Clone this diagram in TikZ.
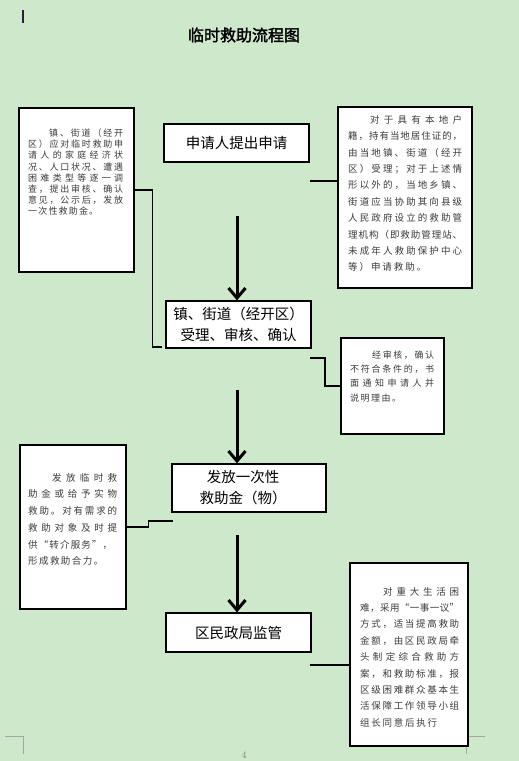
\documentclass[tikz,border=0pt]{standalone}
\usepackage{fontspec}
\newfontfamily\cjk{Noto Sans CJK SC}
\newfontfamily\cjkb{Noto Sans CJK SC}[FakeBold=2]
\usetikzlibrary{arrows.meta}
\definecolor{bggreen}{RGB}{206,232,204}
\definecolor{markgray}{RGB}{160,168,160}
\definecolor{pagenum}{RGB}{120,125,120}
\definecolor{cursorc}{RGB}{45,30,60}
\definecolor{sidetext}{RGB}{60,60,60}
% spread characters of a line evenly
\def\jl#1{\jlA#1\relax}
\def\jlA#1{#1\futurelet\jlnext\jlB}
\def\jlB{\ifx\jlnext\relax\expandafter\jlEnd\else\hfil\expandafter\jlA\fi}
\def\jlEnd\relax{}
\newcommand\JL[2]{\hbox to #1{\jl{#2}}}
\newcommand\JI[3]{\hbox to #1{\kern#2\jl{#3}}}
\tikzset{
  mainbox/.style={draw, fill=white, line width=1.3pt, inner sep=0pt, align=center,
    font=\cjk\fontsize{14.5}{21}\selectfont},
  sidebox/.style={draw, fill=white, line width=1.3pt, inner sep=0pt},
  sidetxt/.style={anchor=north west, inner sep=0pt, align=left, text=sidetext},
  conn/.style={line width=1.2pt},
  bigarrow/.style={line width=3pt, -{Straight Barb[length=10pt,width=17pt]}},
  pagemark/.style={markgray, line width=1pt}
}
\begin{document}
\begin{tikzpicture}[x=1pt,y=-1pt]
\fill[bggreen] (0,0) rectangle (519,761);
\useasboundingbox (0,0) rectangle (519,761);
% cursor bar
\draw[cursorc, line width=2pt] (23,10) -- (23,23);
% page corner marks
\draw[pagemark] (5,736) -- (23,736) -- (23,754);
\draw[pagemark] (485,736) -- (466,736) -- (466,754);
\node[text=pagenum, font=\fontsize{10}{10}\selectfont, inner sep=0pt] (pg) at (244,755.5) {4};
% title
\node[font=\cjkb\fontsize{16}{16}\selectfont, inner sep=0pt] (title) at (244,35) {临时救助流程图};
% main boxes
\node[mainbox, minimum width=145pt, minimum height=38pt] (m1) at (236.5,143) {申请人提出申请};
\node[mainbox, minimum width=145pt, minimum height=47pt] (m2) at (238.5,324.5) {镇、街道（经开区）\\受理、审核、确认};
\node[mainbox, minimum width=154pt, minimum height=48pt] (m3) at (249,488) {};
\node[font=\cjk\fontsize{14.5}{21}\selectfont, align=center, inner sep=0pt] (m3t) at (243,488) {发放一次性\\救助金（物）};
\node[mainbox, minimum width=145pt, minimum height=39pt] (m4) at (238.5,632.5) {区民政局监管};
% side boxes
\node[sidebox, minimum width=115pt, minimum height=164pt] (s1) at (76.5,190) {};
\node[sidebox, minimum width=134pt, minimum height=181pt] (s2) at (405,197.5) {};
\node[sidebox, minimum width=103pt, minimum height=96pt] (s3) at (392.5,386) {};
\node[sidebox, minimum width=106pt, minimum height=164pt] (s4) at (73,527) {};
\node[sidebox, minimum width=118pt, minimum height=183pt] (s5) at (409,654.5) {};
% side texts
\node[sidetxt, font=\cjk\fontsize{9}{11.2}\selectfont] (t1) at (28,128.5) {%
\JI{95pt}{21pt}{镇、街道（经开}\\
\JL{95pt}{区）应对临时救助申}\\
\JL{95pt}{请人的家庭经济状}\\
\JL{95pt}{况、人口状况、遭遇}\\
\JL{95pt}{困难类型等逐一调}\\
\JL{95pt}{查，提出审核、确认}\\
\JL{95pt}{意见，公示后，发放}\\
\JL{70pt}{一次性救助金。}};
\node[sidetxt, font=\cjk\fontsize{9.5}{16.4}\selectfont] (t2) at (348,115) {%
\JI{114pt}{22pt}{对于具有本地户}\\
\JL{114pt}{籍，持有当地居住证的，}\\
\JL{114pt}{由当地镇、街道（经开}\\
\JL{114pt}{区）受理；对于上述情}\\
\JL{114pt}{形以外的，当地乡镇、}\\
\JL{114pt}{街道应当协助其向县级}\\
\JL{114pt}{人民政府设立的救助管}\\
\JL{114pt}{理机构（即救助管理站、}\\
\JL{114pt}{未成年人救助保护中心}\\
\JL{78pt}{等）申请救助。}};
\node[sidetxt, font=\cjk\fontsize{9}{14.3}\selectfont] (t3) at (350,350.5) {%
\JI{84pt}{22pt}{经审核，确认}\\
\JL{84pt}{不符合条件的，书}\\
\JL{84pt}{面通知申请人并}\\
\JL{51pt}{说明理由。}};
\node[sidetxt, font=\cjk\fontsize{9.5}{16.7}\selectfont] (t4) at (28,473) {%
\JI{89pt}{24pt}{发放临时救}\\
\JL{89pt}{助金或给予实物}\\
\JL{89pt}{救助。对有需求的}\\
\JL{89pt}{救助对象及时提}\\
\JL{84pt}{供“转介服务”，}\\
\JL{75pt}{形成救助合力。}};
\node[sidetxt, font=\cjk\fontsize{9.5}{16.4}\selectfont] (t5) at (360,587) {%
\JI{99pt}{23pt}{对重大生活困}\\
\JL{99pt}{难，采用“一事一议”}\\
\JL{99pt}{方式，适当提高救助}\\
\JL{99pt}{金额，由区民政局牵}\\
\JL{99pt}{头制定综合救助方}\\
\JL{99pt}{案，和救助标准，报}\\
\JL{99pt}{区级困难群众基本生}\\
\JL{99pt}{活保障工作领导小组}\\
\JL{77pt}{组长同意后执行}};
% connector end points
\coordinate (c1e) at (162,347);
\coordinate (c2a) at (310,181);
\coordinate (c3a) at (310,358);
\coordinate (c4e) at (173,521);
\coordinate (c5a) at (310,665);
\coordinate (a1) at (237,216);
\coordinate (a2) at (237,390);
\coordinate (a3) at (237,535);
% connectors
\draw[conn] (s1.east) -- ++(18,0) |- (c1e);
\draw[conn] (c2a) -- (c2a -| s2.west);
\draw[conn] (c3a) -- ++(15,0) |- (s3.west);
\draw[conn] (s4.east) -- ++(22,0) |- (c4e);
\draw[conn] (c5a) -- (c5a -| s5.west);
% arrows
\draw[bigarrow] (a1) -- (a1 |- m2.north);
\draw[bigarrow] (a2) -- (a2 |- m3.north);
\draw[bigarrow] (a3) -- (a3 |- m4.north);
\end{tikzpicture}
\end{document}
